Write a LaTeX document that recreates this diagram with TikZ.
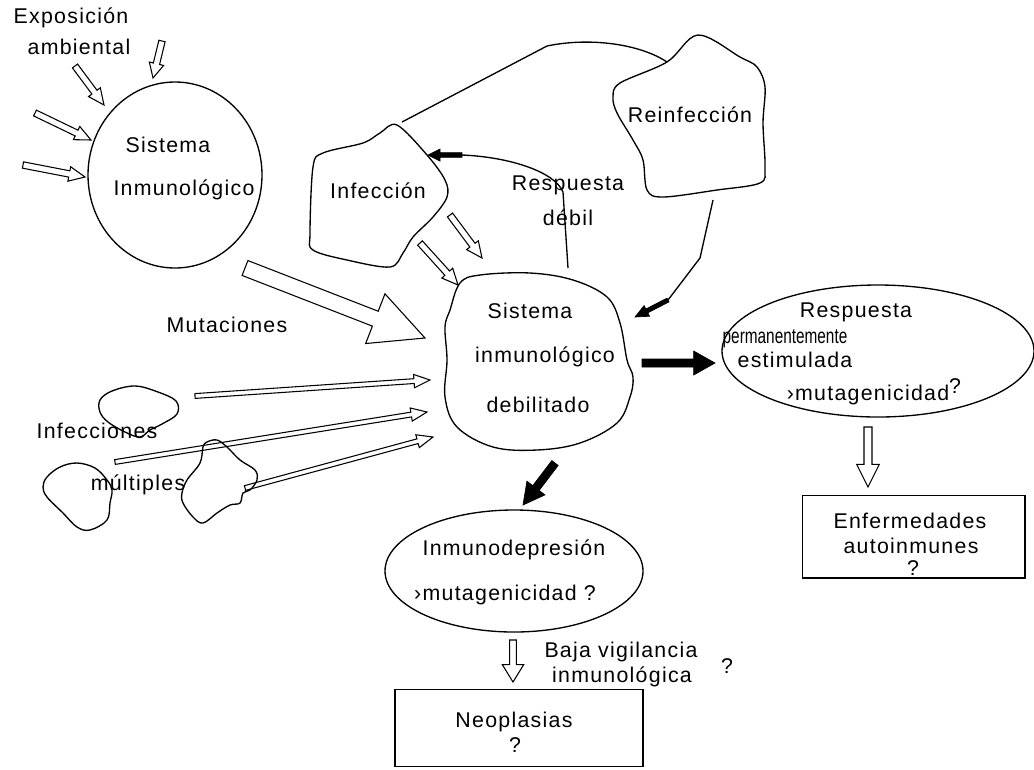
\documentclass[tikz,border=0pt]{standalone}
\usepackage{fontspec}
\setmainfont{Liberation Sans}[LetterSpace=6]
\usetikzlibrary{arrows,calc,shapes.geometric}

\newcommand{\fs}{\fontsize{16}{19}\selectfont}
% outlined arrow: [style]{tail}{tip}{half shaft}{half head}{head length}
\newcommand{\bigarrow}[6][hol]{%
  \path[#1] ($(#2)!#4!90:(#3)$) -- ($($(#3)!#6!(#2)$)!#4!90:(#3)$)
    -- ($($(#3)!#6!(#2)$)!#5!90:(#3)$) -- (#3)
    -- ($($(#3)!#6!(#2)$)!#5!-90:(#3)$) -- ($($(#3)!#6!(#2)$)!#4!-90:(#3)$)
    -- ($(#2)!#4!-90:(#3)$) -- cycle;}

\begin{document}
\begin{tikzpicture}[x=0.75pt,y=-0.75pt,>=triangle 45,line width=1pt]
				\tikzstyle{lbl} = [font=\fs,anchor=base,inner sep=0pt];
				\tikzstyle{blob} = [draw=black,line width=1pt];
				\tikzstyle{hol} = [draw=black,line width=0.8pt,line join=miter];
				\tikzstyle{sol} = [draw=black,fill=black,line width=0.5pt];
				\tikzstyle{box} = [draw=black,rectangle,inner sep=0pt];
				\useasboundingbox (0,0) rectangle (1034,769);

				% shapes
				\node[draw,ellipse,minimum width=130.5pt,minimum height=139.5pt] (sis) at (175,175) {};
				\node[draw,ellipse,minimum width=234pt,minimum height=99pt] (rpe) at (878,351) {};
				\node[draw,ellipse,minimum width=193.5pt,minimum height=91.5pt] (ind) at (514,571) {};
				\node[box,minimum width=167pt,minimum height=62pt] (enf) at (913.5,536.5) {};
				\node[box,minimum width=186pt,minimum height=58pt] (neo) at (519,728) {};
				\draw[blob] plot[smooth cycle,tension=0.55] coordinates {(397,125) (427,155) (445,180) (447,197) (433,217) (413,237) (403,253) (390,267) (347,260) (313,250) (310,233) (313,167) (323,153) (363,143) (380,133)};
				\draw[blob] plot[smooth cycle,tension=0.55] coordinates {(698,35) (667,62) (620,83) (613,97) (617,113) (633,140) (643,160) (647,190) (663,197) (717,190) (760,183) (765,167) (763,123) (765,87) (757,67) (740,57)};
				\draw[blob] plot[smooth cycle,tension=0.6] coordinates {(460,283) (480,275) (530,273) (573,280) (607,297) (620,323) (627,360) (633,377) (630,397) (617,423) (580,443) (537,450) (493,447) (457,427) (445,397) (447,360) (445,327) (450,310)};
				\draw[blob] plot[smooth cycle,tension=0.6] coordinates {(100,400) (112,391) (135,386) (158,392) (176,401) (177,414) (162,424) (150,430) (140,437) (125,432) (108,422) (100,412)};
				\draw[blob] plot[smooth cycle,tension=0.6] coordinates {(47,477) (60,467) (77,463) (95,468) (107,480) (112,490) (110,503) (107,520) (90,530) (77,527) (63,513) (47,497) (43,487)};
				\draw[blob] plot[smooth cycle,tension=0.6] coordinates {(207,442) (217,440) (227,447) (240,460) (255,470) (257,480) (250,490) (243,493) (240,503) (230,505) (217,513) (203,523) (193,517) (183,503) (182,493) (187,480) (200,463) (203,447)};

				% texts
				\node[lbl] (t-exp1) at (71,23) {Exposición};
				\node[lbl] (t-exp2) at (79,54) {ambiental};
				\node[lbl] (t-sis1) at (168,152) {Sistema};
				\node[lbl] (t-sis2) at (184,195) {Inmunológico};
				\node[lbl] (t-inf) at (378,198) {Infección};
				\node[lbl] (t-rei) at (690,122) {Reinfección};
				\node[lbl] (t-rd1) at (568,190) {Respuesta};
				\node[lbl] (t-rd2) at (568,225) {débil};
				\node[lbl] (t-deb1) at (530,318) {Sistema};
				\node[lbl] (t-deb2) at (545,362) {inmunológico};
				\node[lbl] (t-deb3) at (538,412) {debilitado};
				\node[lbl] (t-mut) at (227,332) {Mutaciones};
				\node[lbl] (t-im1) at (97,438) {Infecciones};
				\node[lbl] (t-im2) at (138,490) {múltiples};
				\node[lbl] (t-rp1) at (856,317) {Respuesta};
				\node[lbl] (t-rp2) at (785,343) {\addfontfeature{LetterSpace=0}\scalebox{0.72}[1]{permanentemente}};
				\node[lbl] (t-rp3) at (795,367) {estimulada};
				\node[lbl] (t-rp4) at (868,400) {›mutagenicidad};
				\node[lbl] (t-rp5) at (955,393) {?};
				\node[lbl] (t-enf1) at (910,528) {Enfermedades};
				\node[lbl] (t-enf2) at (911,553) {autoinmunes};
				\node[lbl] (t-enf3) at (913,575) {?};
				\node[lbl] (t-ind1) at (514,555) {Inmunodepresión};
				\node[lbl] (t-ind2) at (505,600) {›mutagenicidad ?};
				\node[lbl] (t-baja1) at (621,657) {Baja vigilancia};
				\node[lbl] (t-baja2) at (622,682) {inmunológica};
				\node[lbl] (t-baja3) at (727,673) {?};
				\node[lbl] (t-neo1) at (514,727) {Neoplasias};
				\node[lbl] (t-neo2) at (515,752) {?};

				% arrow ends
				\coordinate (e1) at (162,41);  \coordinate (s1) at (153,78);
				\coordinate (e2) at (75,66);   \coordinate (s2) at (104,105);
				\coordinate (e3) at (35,113);  \coordinate (s3) at (91,140);
				\coordinate (e4) at (23,165);  \coordinate (s4) at (85,177);
				\coordinate (i1) at (450,215); \coordinate (d1) at (482,258);
				\coordinate (i2) at (420,243); \coordinate (d2) at (458,285);
				\coordinate (m0) at (245,268); \coordinate (d3) at (425,338);
				\coordinate (b1) at (195,396); \coordinate (d4) at (430,380);
				\coordinate (b2) at (115,462); \coordinate (d5) at (427,412);
				\coordinate (b3) at (245,488); \coordinate (d6) at (433,437);
				\coordinate (d7) at (642,363); \coordinate (r1) at (715,363);
				\coordinate (d8) at (555,463); \coordinate (n1) at (523,505);
				\coordinate (r2) at (868,427); \coordinate (f1) at (868,487);
				\coordinate (n2) at (513,640); \coordinate (p1) at (513,682);
				\coordinate (inf-top) at (402,122); \coordinate (rei-l) at (667,62);
				\coordinate (deb-top) at (568,268); \coordinate (rd) at (462,155);
				\coordinate (inf-r) at (428,155);
				\coordinate (rei-b) at (713,200); \coordinate (rr) at (668,300);
				\coordinate (deb-r) at (635,317);

				% open arrows
				\bigarrow{e1}{s1}{2.4pt}{5.5pt}{11pt}
				\bigarrow{e2}{s2}{2.4pt}{5.5pt}{12pt}
				\bigarrow{e3}{s3}{2.4pt}{5.5pt}{12pt}
				\bigarrow{e4}{s4}{2.4pt}{5.5pt}{12pt}
				\bigarrow{i1}{d1}{2.4pt}{5.5pt}{12pt}
				\bigarrow{i2}{d2}{2.4pt}{5.5pt}{12pt}
				\bigarrow{m0}{d3}{6pt}{20pt}{40pt}
				\bigarrow{b1}{d4}{1.8pt}{5pt}{12pt}
				\bigarrow{b2}{d5}{1.8pt}{5pt}{12pt}
				\bigarrow{b3}{d6}{1.8pt}{5pt}{12pt}
				\bigarrow{r2}{f1}{3pt}{8.5pt}{17pt}
				\bigarrow{n2}{p1}{2.5pt}{8pt}{13pt}

				% solid arrows
				\bigarrow[sol]{d7}{r1}{3pt}{9pt}{16pt}
				\bigarrow[sol]{d8}{n1}{3pt}{8.5pt}{16pt}
				\draw (inf-top) -- (547,46) .. controls (590,37) and (640,44) .. (rei-l);
				\draw (deb-top) -- (563,192) .. controls (555,172) and (510,157) .. (rd);
				\bigarrow[sol]{rd}{inf-r}{1.8pt}{4.5pt}{9pt}
				\draw (rei-b) -- (700,258) -- (rr);
				\bigarrow[sol]{rr}{deb-r}{1.6pt}{4.5pt}{10pt}
			\end{tikzpicture}
\end{document}
